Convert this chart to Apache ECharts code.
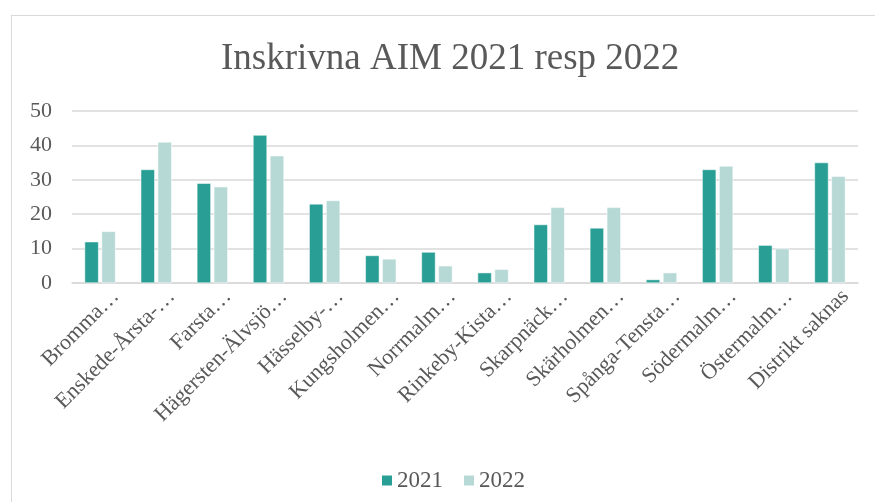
<!DOCTYPE html>
<html><head><meta charset="utf-8">
<script src="https://cdn.jsdelivr.net/npm/echarts@6/dist/echarts.min.js"></script>
<style>
html,body{margin:0;padding:0;background:#fff;}
#frame{position:absolute;left:11px;top:15px;width:880px;height:500px;border:1px solid #d9d9d9;box-sizing:border-box;}
#chart{position:absolute;left:0;top:0;width:875px;height:502px;}
</style></head>
<body>
<div id="frame"></div>
<div id="chart"></div>
<script>
const categories = ["Bromma…","Enskede-Årsta-…","Farsta…","Hägersten-Älvsjö…","Hässelby-…","Kungsholmen…","Norrmalm…","Rinkeby-Kista…","Skarpnäck…","Skärholmen…","Spånga-Tensta…","Södermalm…","Östermalm…","Distrikt saknas"];
const values2021 = [12,33,29,43,23,8,9,3,17,16,1,33,11,35];
const values2022 = [15,41,28,37,24,7,5,4,22,22,3,34,10,31];
const yTicks = [0,10,20,30,40,50];

const font = "'Liberation Serif','Times New Roman',serif";
const chart = echarts.init(document.getElementById('chart'));
chart.setOption({
  animation:false,
  title:{text:"Inskrivna AIM 2021 resp 2022",left:216,top:36,
    textStyle:{fontFamily:font,fontSize:37,fontWeight:'normal',color:'#595959'}},
  legend:{top:464,left:375,itemWidth:12,itemHeight:12,itemGap:19,
    icon:'rect',textStyle:{fontFamily:font,fontSize:23,color:'#595959',padding:[0,0,0,-1]}},
  grid:{left:72,right:17,top:111,bottom:219,containLabel:false},
  xAxis:{type:'category',data:categories,
    axisLine:{lineStyle:{color:'#d9d9d9',width:1.5}},axisTick:{show:false},
    axisLabel:{rotate:45,interval:0,fontFamily:font,fontSize:22,color:'#595959',margin:10,
      verticalAlign:'top',padding:[0,-11,0,0]}},
  yAxis:{type:'value',min:yTicks[0],max:yTicks[yTicks.length-1],interval:10,
    axisLine:{show:false},axisTick:{show:false},
    axisLabel:{fontFamily:font,fontSize:22,color:'#595959',margin:20},
    splitLine:{lineStyle:{color:'#d9d9d9',width:1.5}}},
  series:[
    {name:'2021',type:'bar',data:values2021,barWidth:14,barGap:'21%',
     itemStyle:{color:'#289E94',borderColor:'#fff',borderWidth:0.5}},
    {name:'2022',type:'bar',data:values2022,barWidth:14,
     itemStyle:{color:'#B7D9D6',borderColor:'#fff',borderWidth:0.5}}
  ]
});
</script>
</body></html>
